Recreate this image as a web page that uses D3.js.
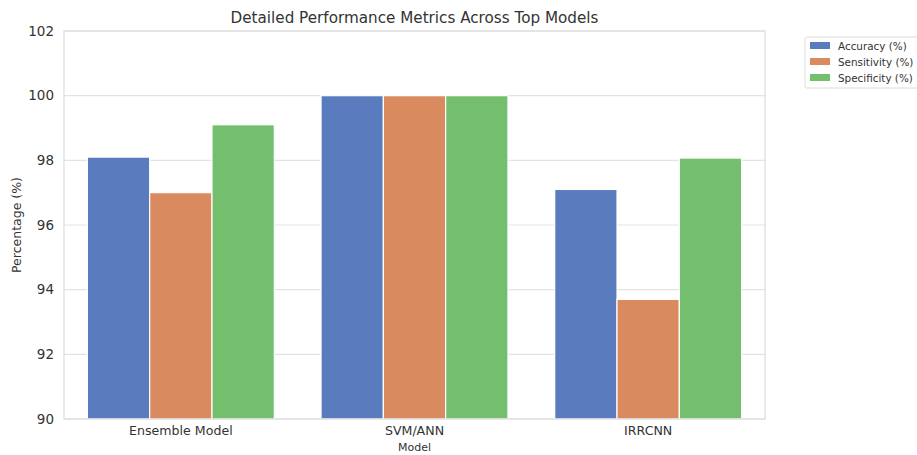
<!DOCTYPE html>
<html>
<head>
<meta charset="utf-8">
<script src="https://cdn.jsdelivr.net/npm/d3@7"></script>
<style>
  body { margin: 0; background: #fff; }
  svg text { font-family: "DejaVu Sans", sans-serif; fill: #333; }
</style>
</head>
<body>
<svg id="chart"></svg>
<script>
// data
var models = ["Ensemble Model", "SVM/ANN", "IRRCNN"];
var metrics = ["Accuracy (%)", "Sensitivity (%)", "Specificity (%)"];
var accuracy = [98.1, 100, 97.1];
var sensitivity = [97.0, 100, 93.7];
var specificity = [99.1, 100, 98.07];
var yTicks = [90, 92, 94, 96, 98, 100, 102];

var series = [accuracy, sensitivity, specificity];
var colors = ["#5b7bbf", "#d98a5e", "#74bf6e"];

var w = 917, h = 455;
var margin = {top: 31, right: 152, bottom: 36, left: 64};

var svg = d3.select("#chart").attr("width", w).attr("height", h);

var x0 = d3.scaleBand()
  .domain(models)
  .range([margin.left, w - margin.right])
  .paddingInner(0.2).paddingOuter(0.1);
var x1 = d3.scaleBand()
  .domain(metrics)
  .range([0, x0.bandwidth()]);
var y = d3.scaleLinear()
  .domain([90, 102])
  .range([h - margin.bottom, margin.top]);

// grid
svg.append("g")
  .selectAll("line")
  .data(yTicks)
  .enter()
  .append("line")
  .attr("x1", margin.left)
  .attr("x2", w - margin.right)
  .attr("y1", function(d) { return y(d); })
  .attr("y2", function(d) { return y(d); })
  .attr("stroke", "#e3e3e3")
  .attr("stroke-width", 1.2);

// bars
var table = [];
models.forEach(function(m, i) {
  metrics.forEach(function(k, j) {
    table.push({model: m, metric: k, value: series[j][i], c: colors[j]});
  });
});

svg.append("g")
  .selectAll("rect")
  .data(table)
  .enter()
  .append("rect")
  .attr("x", function(d) { return x0(d.model) + x1(d.metric); })
  .attr("y", function(d) { return y(d.value); })
  .attr("width", x1.bandwidth())
  .attr("height", function(d) { return y(90) - y(d.value); })
  .attr("fill", function(d) { return d.c; })
  .attr("stroke", "#fff")
  .attr("stroke-width", 1.2);

// frame
svg.append("rect")
  .attr("x", margin.left)
  .attr("y", margin.top)
  .attr("width", w - margin.right - margin.left)
  .attr("height", h - margin.bottom - margin.top)
  .attr("fill", "none")
  .attr("stroke", "#dcdcdc")
  .attr("stroke-width", 1.2);

// y axis
var yAxis = svg.append("g")
  .attr("transform", "translate(" + margin.left + ",0)")
  .call(d3.axisLeft(y).tickValues(yTicks).tickSize(0).tickPadding(10));
yAxis.select(".domain").remove();
yAxis.selectAll("text").attr("font-size", 13.5).style("font-family", "DejaVu Sans, sans-serif");

// x axis
var xAxis = svg.append("g")
  .attr("transform", "translate(0," + (h - margin.bottom) + ")")
  .call(d3.axisBottom(x0).tickSize(0).tickPadding(7));
xAxis.select(".domain").remove();
xAxis.selectAll("text").attr("font-size", 12.6).style("font-family", "DejaVu Sans, sans-serif");

// labels
svg.append("text")
  .attr("text-anchor", "middle")
  .attr("x", (margin.left + w - margin.right) / 2)
  .attr("y", 23)
  .attr("font-size", 15.2)
  .text("Detailed Performance Metrics Across Top Models");

svg.append("text")
  .attr("text-anchor", "middle")
  .attr("x", (margin.left + w - margin.right) / 2)
  .attr("y", 451)
  .attr("font-size", 11)
  .text("Model");

svg.append("text")
  .attr("text-anchor", "middle")
  .attr("transform", "translate(21," + ((margin.top + h - margin.bottom) / 2) + ") rotate(-90)")
  .attr("font-size", 12.5)
  .text("Percentage (%)");

// legend
var legend = svg.append("g").attr("transform", "translate(805,37)");
legend.append("rect")
  .attr("width", 120).attr("height", 51)
  .attr("rx", 2)
  .attr("fill", "#fff")
  .attr("stroke", "#dcdcdc");
metrics.forEach(function(m, i) {
  legend.append("rect")
    .attr("x", 5).attr("y", 5 + i * 16)
    .attr("width", 20).attr("height", 7)
    .attr("fill", colors[i]);
  legend.append("text")
    .attr("x", 33).attr("y", 12.5 + i * 16)
    .attr("font-size", 10.4)
    .text(m);
});
</script>
</body>
</html>
